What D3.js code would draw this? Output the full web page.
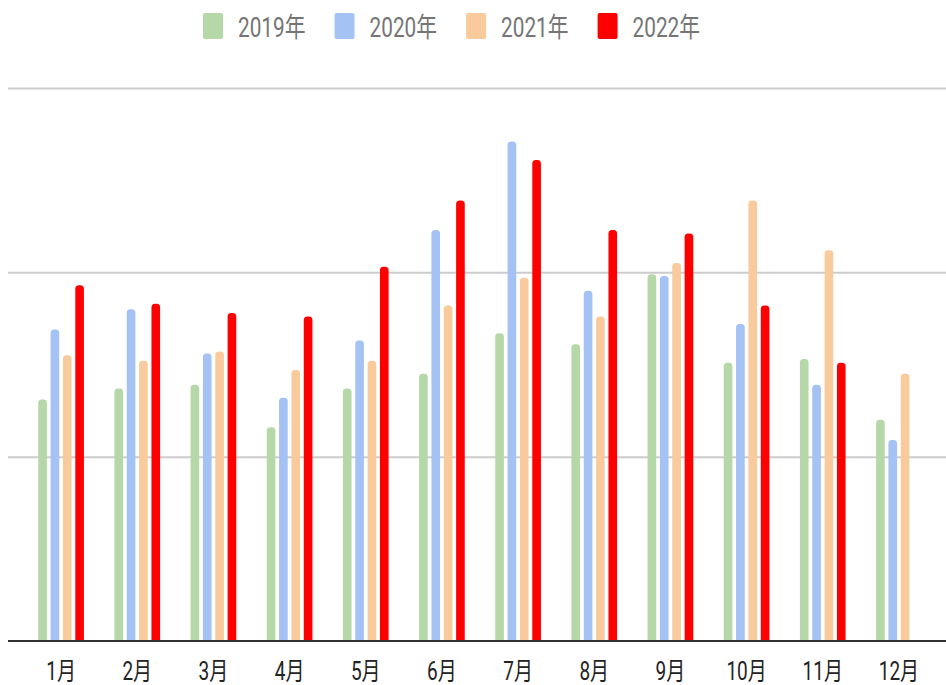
<!DOCTYPE html>
<html>
<head>
<meta charset="utf-8">
<script src="https://cdn.jsdelivr.net/npm/d3@7"></script>
<style>
    body { margin: 0; background: #fff; }
    svg { display: block; }
    text { font-family: Roboto, "Noto Sans CJK SC", sans-serif; }
</style>
</head>
<body>
<div id="chart"></div>
<script>
var months = ['1月', '2月', '3月', '4月', '5月', '6月', '7月', '8月', '9月', '10月', '11月', '12月'];
var series = ['2019年', '2020年', '2021年', '2022年'];
var colors = ['#b6d7a8', '#a4c2f4', '#f9cb9c', '#ff0000'];

var values2019 = [131, 137, 139, 116, 137, 145, 167, 161, 199, 151, 153, 120];
var values2020 = [169, 180, 156, 132, 163, 223, 271, 190, 198, 172, 139, 109];
var values2021 = [155, 152, 157, 147, 152, 182, 197, 176, 205, 239, 212, 145];
var values2022 = [193, 183, 178, 176, 203, 239, 261, 223, 221, 182, 151, null];

var gridTicks = [100, 200, 300];

var allValues = [values2019, values2020, values2021, values2022];

var width = 946;
var height = 685;
var squeeze = 0.76;
var legendSqueeze = 0.77;

var svg = d3.select('#chart').append('svg')
    .attr('width', width)
    .attr('height', height)

var y = d3.scaleLinear().domain([0, 300]).range([641, 88]);

var x0 = d3.scaleBand().domain(months).range([23, 937])
    .paddingInner(0.4).paddingOuter(0.2);

var x1 = d3.scaleBand().domain(series).range([0, x0.bandwidth()])
    .paddingInner(0.3);

// gridlines
var grid = svg.append('g')
    .attr('transform', 'translate(8,0)')
    .call(d3.axisLeft(y).tickValues(gridTicks).tickSize(-(width - 8)).tickFormat(''))
grid.select('.domain').remove();
grid.selectAll('line').attr('stroke', '#cccccc').attr('stroke-width', 2);

// bars with rounded tops
function barPath(x, top, w, bottom){
    var r = Math.min(3.5, w / 2, (bottom - top) / 2);
    return 'M' + x + ',' + bottom +
        'L' + x + ',' + (top + r) +
        'A' + r + ',' + r + ' 0 0 1 ' + (x + r) + ',' + top +
        'L' + (x + w - r) + ',' + top +
        'A' + r + ',' + r + ' 0 0 1 ' + (x + w) + ',' + (top + r) +
        'L' + (x + w) + ',' + bottom + 'Z';
}

var bars = [];
months.forEach(function(m, i){
    series.forEach(function(s, j){
        var v = allValues[j][i];
        if (v == null) return;
        bars.push({month: m, series: s, value: v, color: colors[j]});
    })
})

svg.append('g').selectAll('path').data(bars)
    .enter()
        .append('path')
        .attr('d', function(d){
            return barPath(x0(d.month) + x1(d.series), y(d.value), x1.bandwidth(), y(0));
        })
        .attr('fill', function(d){return d.color})

// baseline
svg.append('line')
    .attr('x1', 8).attr('x2', width)
    .attr('y1', y(0)).attr('y2', y(0))
    .attr('stroke', '#333333')
    .attr('stroke-width', 2)

// month labels
var xAxis = svg.append('g')
    .attr('transform', 'translate(0,' + y(0) + ')')
    .call(d3.axisBottom(x0).tickSize(0).tickPadding(0))
xAxis.select('.domain').remove();
xAxis.selectAll('text')
    .attr('y', 0)
    .attr('dy', 0)
    .attr('font-size', 25)
    .attr('fill', '#222222')
    .attr('transform', 'translate(0,39) scale(' + squeeze + ',1)')

// legend
var legend = svg.append('g');
var lx = 203;
series.forEach(function(s, j){
    legend.append('rect')
        .attr('x', lx)
        .attr('y', 13)
        .attr('width', 20)
        .attr('height', 26)
        .attr('rx', 2)
        .attr('fill', colors[j])
    var t = legend.append('text')
        .attr('font-size', 27)
        .attr('fill', '#757575')
        .text(s)
    var tw = t.node().getComputedTextLength() * legendSqueeze;
    t.attr('transform', 'translate(' + (lx + 35) + ',37) scale(' + legendSqueeze + ',1)')
    lx += 35 + tw + 29;
})
</script>
</body>
</html>
